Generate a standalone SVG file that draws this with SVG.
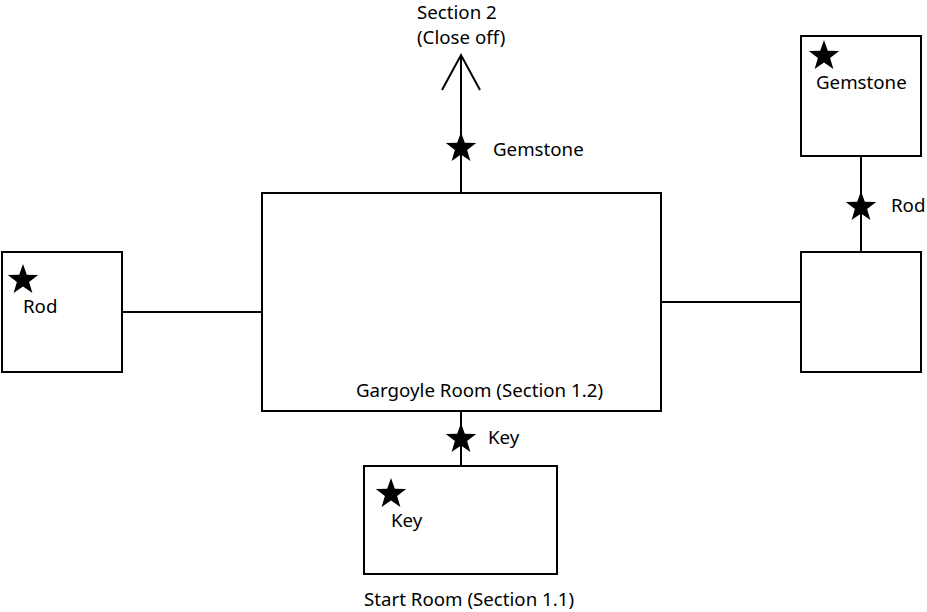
<svg xmlns="http://www.w3.org/2000/svg" xmlns:xlink="http://www.w3.org/1999/xlink" width="927" height="612" viewBox="0 0 927 612">
<style>
.box{fill:#fff;stroke:#000;stroke-width:2}
.ln{fill:none;stroke:#000;stroke-width:2}
text{font-family:"Noto Sans","Liberation Sans",sans-serif;font-size:18.7px;fill:#000}
</style>
<defs>
<path id="star" d="M0,-16 L3.8,-5.2 L15.2,-4.9 L6.1,2 L9.4,12.9 L0,6.4 L-9.4,12.9 L-6.1,2 L-15.2,-4.9 L-3.8,-5.2 Z" fill="#000"/>
</defs>
<rect width="927" height="612" fill="#fff"/>
<g id="connectors">
<line class="ln" x1="122" y1="312" x2="262" y2="312"/>
<line class="ln" x1="661" y1="302" x2="801" y2="302"/>
<line class="ln" x1="461" y1="193" x2="461" y2="55"/>
<polyline class="ln" points="442,90 461,55 480,90"/>
<line class="ln" x1="861" y1="156" x2="861" y2="252"/>
<line class="ln" x1="461" y1="411" x2="461" y2="466"/>
<use xlink:href="#star" x="461" y="148"/>
<text x="493" y="156">Gemstone</text>
<use xlink:href="#star" x="861" y="207"/>
<text x="891" y="212">Rod</text>
<use xlink:href="#star" x="461" y="439"/>
<text x="488" y="444">Key</text>
<text x="417" y="19">Section 2</text>
<text x="417" y="44">(Close off)</text>
</g>
<g id="gargoyle">
<rect class="box" x="262" y="193" width="399" height="218"/>
<text x="356" y="397">Gargoyle Room (Section 1.2)</text>
</g>
<g id="left-room">
<rect class="box" x="2" y="252" width="120" height="120"/>
<use xlink:href="#star" x="23" y="280"/>
<text x="23" y="313">Rod</text>
</g>
<g id="right-room">
<rect class="box" x="801" y="252" width="120" height="120"/>
</g>
<g id="gem-room">
<rect class="box" x="801" y="36" width="120" height="120"/>
<use xlink:href="#star" x="824" y="56"/>
<text x="816" y="89">Gemstone</text>
</g>
<g id="start-room">
<rect class="box" x="364" y="466" width="193" height="108"/>
<use xlink:href="#star" x="391" y="494"/>
<text x="391" y="527">Key</text>
<text x="364" y="606">Start Room (Section 1.1)</text>
</g>
</svg>
